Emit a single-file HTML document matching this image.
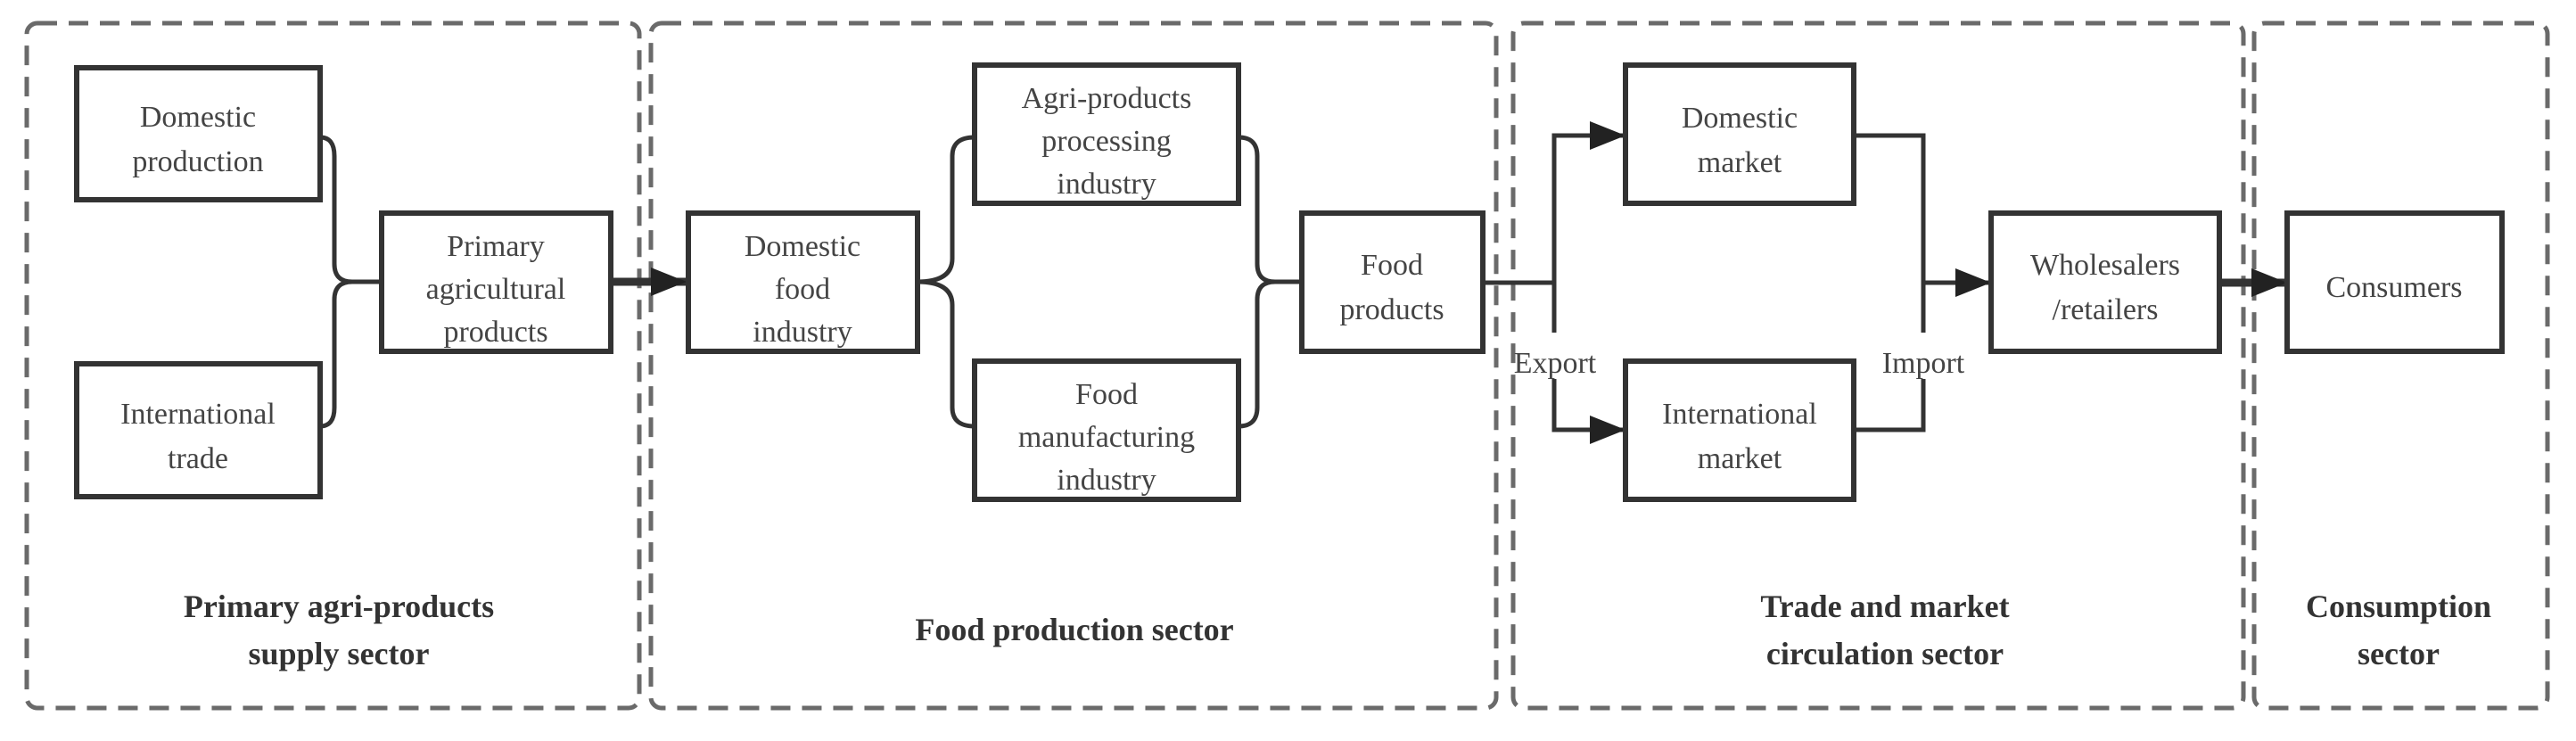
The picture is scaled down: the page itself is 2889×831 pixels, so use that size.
<!DOCTYPE html>
<html><head><meta charset="utf-8"><style>
html,body{margin:0;padding:0;background:#fff;}
svg{display:block;}
text{font-family:"Liberation Serif",serif;}
.n{font-size:34px;fill:#444;text-anchor:middle;}
.s{font-size:36px;font-weight:bold;fill:#333;text-anchor:middle;}
.b{fill:#fff;stroke:#333;stroke-width:6;}
.c{fill:none;stroke:#333;stroke-width:5;}
.d{fill:none;stroke:#6a6a6a;stroke-width:5;stroke-dasharray:22 13;}
</style></head><body>
<svg width="2889" height="831" viewBox="0 0 2889 831" xmlns="http://www.w3.org/2000/svg">
<defs><marker id="a" markerWidth="10" markerHeight="10" refX="9" refY="5" orient="auto" markerUnits="userSpaceOnUse" viewBox="0 0 10 10"><path d="M0,0 L10,5 L0,10z" fill="#222"/></marker>
<marker id="m" viewBox="0 0 10 10" refX="10" refY="5" markerWidth="40" markerHeight="40" markerUnits="userSpaceOnUse" orient="auto"><path d="M0,1 L10,5 L0,9z" fill="#222"/></marker></defs>
<rect class="d" x="30" y="26" width="687" height="768" rx="12"/>
<rect class="d" x="730" y="26" width="948" height="768" rx="12"/>
<rect class="d" x="1697" y="26" width="819" height="768" rx="12"/>
<rect class="d" x="2528" y="26" width="329" height="768" rx="12"/>

<!-- connectors -->
<path class="c" d="M359,154 Q375,154 375,175 L375,296 Q375,316 395,316 L428,316"/>
<path class="c" d="M359,478 Q375,478 375,457 L375,336 Q375,316 395,316"/>
<line x1="685" y1="316" x2="770" y2="316" stroke="#333" stroke-width="9" marker-end="url(#m)"/>
<path class="c" d="M1029,316 Q1068,316 1068,290 L1068,175 Q1068,154 1093,154"/>
<path class="c" d="M1029,316 Q1068,316 1068,342 L1068,457 Q1068,478 1093,478"/>
<path class="c" d="M1389,154 Q1410,154 1410,175 L1410,296 Q1410,316 1430,316 L1460,316"/>
<path class="c" d="M1389,478 Q1410,478 1410,457 L1410,336 Q1410,316 1430,316"/>
<path class="c" d="M1663,317 L1743,317"/>
<path class="c" d="M1743,373 L1743,152 L1790,152" />
<line x1="1785" y1="152" x2="1823" y2="152" stroke="#333" stroke-width="5" marker-end="url(#m)"/>
<path class="c" d="M1743,425 L1743,482 L1790,482"/>
<line x1="1785" y1="482" x2="1823" y2="482" stroke="#333" stroke-width="5" marker-end="url(#m)"/>
<path class="c" d="M2079,152 L2157,152 L2157,373"/>
<path class="c" d="M2079,482 L2157,482 L2157,425"/>
<line x1="2157" y1="317" x2="2233" y2="317" stroke="#333" stroke-width="5" marker-end="url(#m)"/>
<line x1="2489" y1="317" x2="2565" y2="317" stroke="#333" stroke-width="9" marker-end="url(#m)"/>
<text class="n" x="1744" y="418">Export</text>
<text class="n" x="2157" y="418">Import</text>

<!-- nodes -->
<rect class="b" x="86" y="76" width="273" height="148"/>
<text class="n" x="222" y="142">Domestic</text><text class="n" x="222" y="192">production</text>
<rect class="b" x="86" y="408" width="273" height="149"/>
<text class="n" x="222" y="475">International</text><text class="n" x="222" y="525">trade</text>
<rect class="b" x="428" y="239" width="257" height="155"/>
<text class="n" x="556" y="287">Primary</text><text class="n" x="556" y="335">agricultural</text><text class="n" x="556" y="383">products</text>
<rect class="b" x="772" y="239" width="257" height="155"/>
<text class="n" x="900" y="287">Domestic</text><text class="n" x="900" y="335">food</text><text class="n" x="900" y="383">industry</text>
<rect class="b" x="1093" y="73" width="296" height="155"/>
<text class="n" x="1241" y="121">Agri-products</text><text class="n" x="1241" y="169">processing</text><text class="n" x="1241" y="217">industry</text>
<rect class="b" x="1093" y="405" width="296" height="155"/>
<text class="n" x="1241" y="453">Food</text><text class="n" x="1241" y="501">manufacturing</text><text class="n" x="1241" y="549">industry</text>
<rect class="b" x="1460" y="239" width="203" height="155"/>
<text class="n" x="1561" y="308">Food</text><text class="n" x="1561" y="358">products</text>
<rect class="b" x="1823" y="73" width="256" height="155"/>
<text class="n" x="1951" y="143">Domestic</text><text class="n" x="1951" y="193">market</text>
<rect class="b" x="1823" y="405" width="256" height="155"/>
<text class="n" x="1951" y="475">International</text><text class="n" x="1951" y="525">market</text>
<rect class="b" x="2233" y="239" width="256" height="155"/>
<text class="n" x="2361" y="308">Wholesalers</text><text class="n" x="2361" y="358">/retailers</text>
<rect class="b" x="2565" y="239" width="241" height="155"/>
<text class="n" x="2685" y="333">Consumers</text>

<!-- sector labels -->
<text class="s" x="380" y="692">Primary agri-products</text>
<text class="s" x="380" y="745">supply sector</text>
<text class="s" x="1205" y="718">Food production sector</text>
<text class="s" x="2114" y="692">Trade and market</text>
<text class="s" x="2114" y="745">circulation sector</text>
<text class="s" x="2690" y="692">Consumption</text>
<text class="s" x="2690" y="745">sector</text>
</svg>
</body></html>
